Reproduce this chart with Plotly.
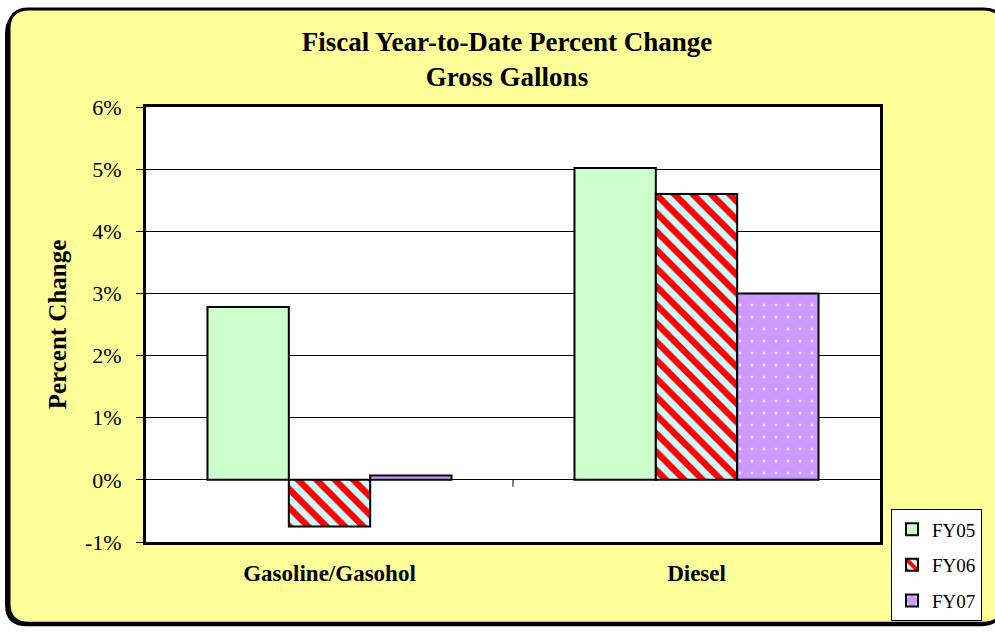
import plotly.graph_objects as go

categories = ["Gasoline/Gasohol", "Diesel"]
series_names = ["FY05", "FY06", "FY07"]
fy05 = [2.78, 5.02]
fy06 = [-0.75, 4.60]
fy07 = [0.07, 3.00]
y_ticks = [-1, 0, 1, 2, 3, 4, 5, 6]
y_tick_labels = ["-1%", "0%", "1%", "2%", "3%", "4%", "5%", "6%"]

W, H = 995, 633
L, R, T, B = 146, 880, 107, 546
FONT = "Liberation Serif, Times New Roman, serif"


def px(x):
    return (x - L) / (R - L)


def py(y):
    return (B - y) / (B - T)


def rounded(x0, y0, x1, y1, r):
    return (f"M {px(x0 + r)},{py(y0)} L {px(x1 - r)},{py(y0)} "
            f"Q {px(x1)},{py(y0)} {px(x1)},{py(y0 + r)} "
            f"L {px(x1)},{py(y1 - r)} Q {px(x1)},{py(y1)} {px(x1 - r)},{py(y1)} "
            f"L {px(x0 + r)},{py(y1)} Q {px(x0)},{py(y1)} {px(x0)},{py(y1 - r)} "
            f"L {px(x0)},{py(y0 + r)} Q {px(x0)},{py(y0)} {px(x0 + r)},{py(y0)} Z")


fig = go.Figure()
styles = [
    dict(color="#CCFFCC"),
    dict(color="#CCFFFF", pattern=dict(shape="\\", fgcolor="#FF0000", bgcolor="#CCFFFF",
                                        fgopacity=1, size=13, solidity=0.5,
                                        fillmode="replace")),
    dict(color="#CC99FF", pattern=dict(shape=".", fgcolor="#EEDDFF", bgcolor="#CC99FF",
                                        fgopacity=1, size=12, solidity=0.05,
                                        fillmode="replace")),
]
for name, vals, st in zip(series_names, [fy05, fy06, fy07], styles):
    fig.add_trace(go.Bar(
        x=categories, y=vals, name=name, legendgroup=name,
        marker=dict(line=dict(color="black", width=2), **st),
    ))

shapes = [
    # shadow of outer frame
    dict(type="path", path=rounded(5, 11, 1003, 631, 22), xref="paper", yref="paper",
         fillcolor="black", line=dict(width=0), layer="below"),
    # outer frame
    dict(type="path", path=rounded(9, 8, 1003, 628, 20), xref="paper", yref="paper",
         fillcolor="#FFFF99", line=dict(color="black", width=3), layer="below"),
    # plot area
    dict(type="rect", x0=0, x1=1, y0=0, y1=1, xref="paper", yref="paper",
         fillcolor="white", line=dict(width=0), layer="below"),
    # category separator tick at zero line
    dict(type="line", xref="x", yref="y", x0=0.5, x1=0.5, y0=0, y1=-0.11,
         line=dict(color="black", width=1)),
]

fig.update_layout(
    width=W, height=H,
    margin=dict(l=L, r=W - R, t=T, b=H - B),
    paper_bgcolor="white", plot_bgcolor="white",
    font=dict(family=FONT, color="black"),
    title=dict(text="<b>Fiscal Year-to-Date Percent Change<br>Gross Gallons</b>",
               x=507 / W, xanchor="center", xref="container",
               y=1 - 51 / H, yanchor="middle", yref="container",
               font=dict(size=27, family=FONT)),
    barmode="group", bargap=0.335, bargroupgap=0,
    shapes=shapes,
    legend=dict(x=px(891), xanchor="left", y=py(513), yanchor="top",
                bgcolor="white", bordercolor="black", borderwidth=1,
                font=dict(size=19, family=FONT),
                traceorder="grouped", tracegroupgap=8),
    showlegend=True,
)
fig.update_yaxes(range=[-1, 6], tickvals=y_ticks, ticktext=y_tick_labels,
                 showgrid=True, gridcolor="black", gridwidth=1,
                 zeroline=False,
                 showline=True, linecolor="black", linewidth=3, mirror=True,
                 ticks="outside", ticklen=7, tickcolor="black", tickwidth=1,
                 ticklabelstandoff=10,
                 tickfont=dict(size=22, family=FONT),
                 title=dict(text="<b>Percent Change</b>", font=dict(size=25, family=FONT),
                            standoff=12))
fig.update_xaxes(showline=True, linecolor="black", linewidth=3, mirror=True,
                 ticks="", tickfont=dict(size=23, family=FONT, weight="bold"),
                 ticklabelstandoff=8)

fig.write_html("out.html",
               config={"displayModeBar": False},
               post_script="document.body.style.margin='0px';"
                           "document.body.style.overflow='hidden';")
